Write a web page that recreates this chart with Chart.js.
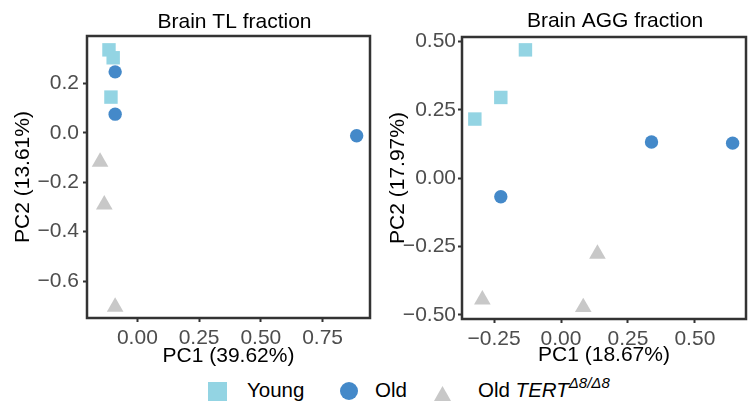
<!DOCTYPE html>
<html>
<head>
<meta charset="utf-8">
<script src="https://cdn.jsdelivr.net/npm/chart.js@4.4.0/dist/chart.umd.min.js"></script>
<style>
  body { margin: 0; width: 755px; height: 401px; background: #fff; overflow: hidden; position: relative; font-family: "Liberation Sans", Arial, sans-serif; }
  canvas { position: absolute; top: 0; }
  #tl { left: 0; }
  #agg { left: 375px; }
  .key { position: absolute; }
  .lbl { position: absolute; top: 380px; font-size: 20.5px; line-height: 20px; color: #000; white-space: nowrap; }
  .lbl sup { font-size: 15px; line-height: 0; vertical-align: baseline; position: relative; top: -9px; }
</style>
</head>
<body>
<canvas id="tl" width="375" height="370"></canvas>
<canvas id="agg" width="380" height="371"></canvas>

<div class="key" style="left:208px;top:382px;width:19px;height:19px;background:#93d4e3"></div>
<div class="lbl" style="left:247px">Young</div>
<div class="key" style="left:340px;top:382px;width:18px;height:18px;border-radius:50%;background:#4489c9"></div>
<div class="lbl" style="left:375px">Old</div>
<svg class="key" style="left:430px;top:386px" width="25" height="22"><polygon points="12.5,0 25,22 0,22" fill="#c8c8c8"/></svg>
<div class="lbl" style="left:478px">Old <i>TERT<sup>Δ8/Δ8</sup></i></div>

<script>
// PC coordinates
const tlYoungPC1 = [-0.115, -0.098, -0.107];
const tlYoungPC2 = [0.335, 0.303, 0.144];
const tlOldPC1 = [-0.090, -0.090, 0.888];
const tlOldPC2 = [0.246, 0.075, -0.012];
const tlTertPC1 = [-0.151, -0.134, -0.090];
const tlTertPC2 = [-0.118, -0.291, -0.704];

const aggYoungPC1 = [-0.322, -0.225, -0.133];
const aggYoungPC2 = [0.216, 0.295, 0.469];
const aggOldPC1 = [-0.225, 0.338, 0.641];
const aggOldPC2 = [-0.068, 0.132, 0.128];
const aggTertPC1 = [-0.294, 0.083, 0.136];
const aggTertPC2 = [-0.444, -0.472, -0.277];

const tlXTicks = [0, 0.25, 0.5, 0.75];
const tlYTicks = [-0.6, -0.4, -0.2, 0, 0.2];
const aggXTicks = [-0.25, 0, 0.25, 0.5];
const aggYTicks = [-0.5, -0.25, 0, 0.25, 0.5];

const FONT = '"Liberation Sans", Arial, sans-serif';
const FS = 21;

const pts = (xs, ys) => xs.map((x, i) => ({ x, y: ys[i] }));

// title above the panel + dark frame round the plot area
const panelDeco = {
  id: 'panelDeco',
  afterDraw(chart, args, opts) {
    const { ctx, chartArea: a } = chart;
    ctx.save();
    ctx.strokeStyle = '#333';
    ctx.lineWidth = 2.5;
    ctx.strokeRect(a.left, a.top, a.right - a.left, a.bottom - a.top);
    ctx.font = FS + 'px ' + FONT;
    ctx.fillStyle = '#000';
    ctx.textAlign = 'center';
    ctx.textBaseline = 'middle';
    ctx.fillText(opts.text, (a.left + a.right) / 2 + opts.dx, opts.y);
    ctx.restore();
  }
};

function axis(min, max, ticks, digits, title, size, titlePad, tickPad) {
  const horiz = size.h !== undefined;
  return {
    type: 'linear',
    min, max,
    afterBuildTicks: s => { s.ticks = ticks.map(v => ({ value: v })); },
    afterFit: s => { if (horiz) s.height = size.h; else s.width = size.w; },
    border: { display: false },
    grid: { drawOnChartArea: false, drawTicks: true, tickLength: 4, tickColor: '#333', tickWidth: 2 },
    ticks: {
      padding: tickPad,
      color: '#4d4d4d',
      font: { family: FONT, size: FS },
      callback: v => v.toFixed(digits).replace('-', '\u2212')
    },
    title: { display: true, text: title, color: '#000', font: { family: FONT, size: FS }, padding: titlePad }
  };
}

function sets(yx, yy, ox, oy, tx, ty) {
  return [
    { label: 'Young', data: pts(yx, yy), pointStyle: 'rect', pointRadius: 9.5, backgroundColor: '#93d4e3', borderWidth: 0 },
    { label: 'Old', data: pts(ox, oy), pointStyle: 'circle', pointRadius: 6.7, backgroundColor: '#4489c9', borderWidth: 0 },
    { label: 'Old TERT', data: pts(tx, ty), pointStyle: 'triangle', pointRadius: 9.6, backgroundColor: '#c8c8c8', borderWidth: 0 }
  ];
}

new Chart(document.getElementById('tl'), {
  type: 'scatter',
  data: { datasets: sets(tlYoungPC1, tlYoungPC2, tlOldPC1, tlOldPC2, tlTertPC1, tlTertPC2) },
  options: {
    responsive: false,
    animation: false,
    events: [],
    clip: false,
    layout: { autoPadding: false, padding: { top: 36, right: 5, left: 0, bottom: 0 } },
    plugins: {
      legend: { display: false },
      tooltip: { enabled: false },
      panelDeco: { text: 'Brain TL fraction', dx: 6, y: 22 }
    },
    scales: {
      x: axis(-0.204, 0.942, tlXTicks, 2, 'PC1 (39.62%)', { h: 52 }, { top: 0, bottom: 1.5 }, 4),
      y: axis(-0.749, 0.391, tlYTicks, 1, 'PC2 (13.61%)', { w: 87 }, { top: 11, bottom: 0 }, 4)
    }
  },
  plugins: [panelDeco]
});

new Chart(document.getElementById('agg'), {
  type: 'scatter',
  data: { datasets: sets(aggYoungPC1, aggYoungPC2, aggOldPC1, aggOldPC2, aggTertPC1, aggTertPC2) },
  options: {
    responsive: false,
    animation: false,
    events: [],
    clip: false,
    layout: { autoPadding: false, padding: { top: 37, right: 9, left: 0, bottom: 0 } },
    plugins: {
      legend: { display: false },
      tooltip: { enabled: false },
      panelDeco: { text: 'Brain AGG fraction', dx: 11, y: 21 }
    },
    scales: {
      x: axis(-0.370, 0.691, aggXTicks, 2, 'PC1 (18.67%)', { h: 52 }, { top: 0, bottom: 3.5 }, 4),
      y: axis(-0.515, 0.516, aggYTicks, 2, 'PC2 (17.97%)', { w: 87 }, { top: 11, bottom: 0 }, 2)
    }
  },
  plugins: [panelDeco]
});
</script>
</body>
</html>
